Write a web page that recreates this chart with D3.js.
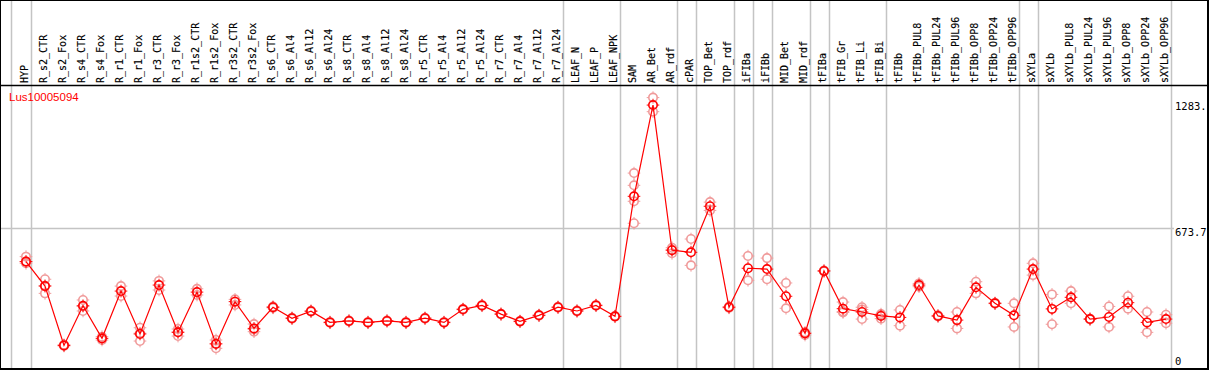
<!DOCTYPE html>
<html>
<head>
<meta charset="utf-8">
<script src="https://cdn.jsdelivr.net/npm/d3@7"></script>
<style>
body { margin: 0; background: #fff; }
svg { display: block; }
</style>
</head>
<body>
<script>
// sample names (columns)
var samples = ["HYP","R_s2_CTR","R_s2_Fox","R_s4_CTR","R_s4_Fox","R_r1_CTR","R_r1_Fox","R_r3_CTR","R_r3_Fox",
  "R_r1s2_CTR","R_r1s2_Fox","R_r3s2_CTR","R_r3s2_Fox","R_s6_CTR","R_s6_Al4","R_s6_Al12","R_s6_Al24",
  "R_s8_CTR","R_s8_Al4","R_s8_Al12","R_s8_Al24","R_r5_CTR","R_r5_Al4","R_r5_Al12","R_r5_Al24",
  "R_r7_CTR","R_r7_Al4","R_r7_Al12","R_r7_Al24","LEAF_N","LEAF_P","LEAF_NPK","SAM","AR_Bet","AR_rdf",
  "cPAR","TOP_Bet","TOP_rdf","iFIBa","iFIBb","MID_Bet","MID_rdf","tFIBa","tFIB_Gr","tFIB_Li","tFIB_Bi",
  "tFIBb","tFIBb_PUL8","tFIBb_PUL24","tFIBb_PUL96","tFIBb_OPP8","tFIBb_OPP24","tFIBb_OPP96","sXYLa",
  "sXYLb","sXYLb_PUL8","sXYLb_PUL24","sXYLb_PUL96","sXYLb_OPP8","sXYLb_OPP24","sXYLb_OPP96"];

// mean expression per sample
var means = [513,395,109,300,143,371,164,400,172,366,116,320,191,293,240,274,220,227,220,227,220,240,220,283,302,
  260,225,254,293,275,302,249,828,1268,568,558,780,293,481,477,346,167,468,286,270,251,244,400,251,231,389,312,254,
  477,285,341,236,246,315,220,236];

// individual replicates
var reps = [[537,505,513],[428,360,397],[112,106],[328,275,298],[151,135],[395,347],[194,130,168],[420,376],
  [188,154,174],[382,352],[135,95,118],[331,304],[212,175,186],[296,290],[242,238],[276,272],[222,218],[229,225],
  [222,218],[229,225],[222,218],[242,238],[222,218],[285,281],[304,300],[262,258],[227,223],[256,252],[295,291],
  [277,273],[304,300],[251,247],[940,881,804,698],[1304,1236],[580,553,570],[622,495],[800,760],[296,290],
  [540,423],[530,428],[410,288],[159,172],[470,466],[318,272,268],[293,236,282],[260,238,255],[280,204],
  [408,392],[254,248],[270,191],[416,360],[314,310],[312,198],[505,448],[355,211],[371,312],[238,234],
  [297,198],[346,286],[270,172],[257,216]];

// columns followed by a group separator
var groupEnds = ["HYP","R_r7_Al24","LEAF_NPK","AR_rdf","cPAR","TOP_rdf","iFIBa","iFIBb","MID_rdf","tFIBa",
  "tFIB_Bi","tFIBb_OPP96","sXYLa","sXYLb_OPP96"];

var geneName = "Lus10005094";
var axisTicks = [0, 673.7, 1283];
var axisLabels = ["0", "673.7", "1283."];

var W = 1209, H = 370;
var headerY = 85, bottom = 368;
var red = "#ff0000", pink = "#f09a9a", grey = "#c4c4c4";

var svg = d3.select("body").append("svg").attr("width", W).attr("height", H);

var x = d3.scaleLinear().domain([0, samples.length - 1]).range([26, 1166]);
var y = d3.scaleLinear().domain([0, 673.7]).range([bottom, 228.3]);

// grey separators
var sepX = [x(-0.805)].concat(groupEnds.map(function(s) { return x(samples.indexOf(s)) + 4.6; }));
svg.selectAll("line.sep").data(sepX).enter().append("line")
  .attr("x1", function(d) { return Math.round(d) + 0.5; })
  .attr("x2", function(d) { return Math.round(d) + 0.5; })
  .attr("y1", 0).attr("y2", bottom)
  .attr("stroke", grey).attr("stroke-width", 1.5);

// horizontal reference line
svg.append("line")
  .attr("x1", 1).attr("x2", 1174)
  .attr("y1", Math.round(y(673.7)) + 0.5).attr("y2", Math.round(y(673.7)) + 0.5)
  .attr("stroke", grey).attr("stroke-width", 1.5);

// header line
svg.append("line").attr("x1", 0).attr("x2", W).attr("y1", headerY + 0.5).attr("y2", headerY + 0.5)
  .attr("stroke", "#000").attr("stroke-width", 1.5);

// column labels
svg.selectAll("text.col").data(samples).enter().append("text")
  .attr("transform", function(d, i) { return "translate(" + Math.round(x(i) + 2) + "," + (headerY - 2) + ") rotate(-90)"; })
  .attr("font-family", "DejaVu Sans Mono").attr("font-size", 10)
  .attr("fill", "#000").attr("stroke", "#000").attr("stroke-width", 0.15)
  .text(function(d) { return d; });

// gene name
svg.append("text").attr("x", 9).attr("y", 101)
  .attr("font-family", "Liberation Sans, Arial").attr("font-size", 11.5)
  .attr("fill", red).text(geneName);

// right axis labels
svg.selectAll("text.ax").data(axisTicks).enter().append("text")
  .attr("x", 1175)
  .attr("y", function(d, i) { return i === 0 ? 365 : y(d) + 8; })
  .attr("font-family", "DejaVu Sans Mono").attr("font-size", 10.5)
  .attr("fill", "#000").text(function(d, i) { return axisLabels[i]; });

// marker: circle with little ticks
function marker(g, cx, cy, color) {
  g.append("circle").attr("cx", cx).attr("cy", cy).attr("r", 4.2)
    .attr("fill", "none").attr("stroke", color).attr("stroke-width", 1.6);
  g.append("path")
    .attr("d", "M" + cx + "," + (cy - 6.3) + "V" + (cy - 4.5) + "M" + cx + "," + (cy + 4.5) + "V" + (cy + 6.3) +
      "M" + (cx - 6.3) + "," + cy + "H" + (cx - 4.5) + "M" + (cx + 4.5) + "," + cy + "H" + (cx + 6.3))
    .attr("stroke", color).attr("stroke-width", 1);
}

var repG = svg.append("g");
reps.forEach(function(r, i) {
  r.forEach(function(v) { marker(repG, x(i), y(v), pink); });
});

// mean line
var line = d3.line().x(function(d, i) { return x(i); }).y(function(d) { return y(d); });
svg.append("path").datum(means).attr("d", line)
  .attr("fill", "none").attr("stroke", red).attr("stroke-width", 1.2);

var meanG = svg.append("g");
means.forEach(function(v, i) { marker(meanG, x(i), y(v), red); });

// border
svg.append("rect").attr("x", 0).attr("y", 0).attr("width", 1208).attr("height", 369)
  .attr("fill", "none").attr("stroke", "#000").attr("stroke-width", 2);
</script>
</body>
</html>
